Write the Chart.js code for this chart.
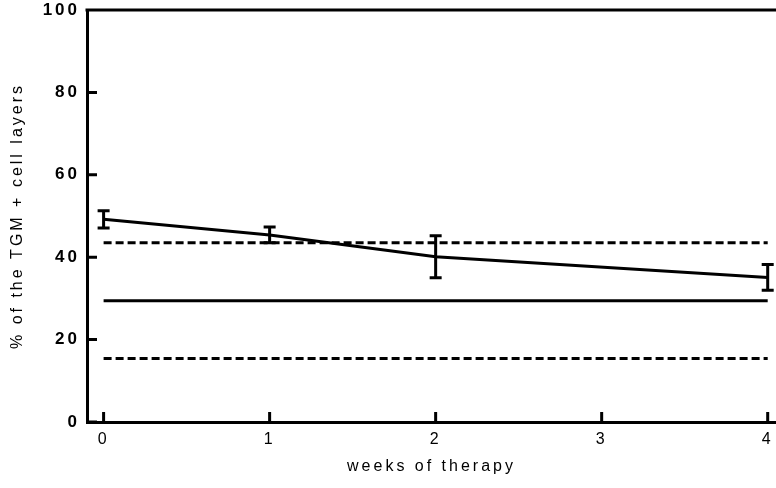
<!DOCTYPE html>
<html><head><meta charset="utf-8">
<script src="https://cdn.jsdelivr.net/npm/chart.js@4"></script>
<style>html,body{margin:0;padding:0;background:#fff}</style>
</head><body>
<canvas id="c" width="776" height="488"></canvas>
<script>
const weeks = [0, 1, 2, 4];
const meanPct = [49.2, 45.4, 40.1, 35.1];
const errPct = [2.1, 1.9, 5.1, 3.1];
const refWeeks = [0, 4];
const refMean = [29.4, 29.4];
const refUpper = [43.5, 43.5];
const refLower = [15.4, 15.4];
const xTicks = [0, 1, 2, 3, 4];
const yTicks = [0, 20, 40, 60, 80, 100];
const xTitle = 'weeks of therapy';
const yTitle = '% of the TGM + cell layers';

const FONT = "'Liberation Sans', Arial, sans-serif";
const SPACING = '3px';

const pts = (xs, ys) => xs.map((v, i) => ({x: v, y: ys[i]}));

const spacingPlugin = {
  id: 'spacing',
  beforeLayout(chart) { chart.ctx.letterSpacing = SPACING; },
  beforeDraw(chart) { chart.ctx.letterSpacing = SPACING; }
};

const decorPlugin = {
  id: 'decor',
  afterDatasetsDraw(chart) {
    const {ctx, scales: {x, y}} = chart;
    ctx.save();
    ctx.strokeStyle = '#000';
    ctx.lineWidth = 3;
    ctx.lineCap = 'butt';
    weeks.forEach((w, i) => {
      const px = x.getPixelForValue(w);
      const top = y.getPixelForValue(meanPct[i] + errPct[i]);
      const bot = y.getPixelForValue(meanPct[i] - errPct[i]);
      ctx.beginPath();
      ctx.moveTo(px, top); ctx.lineTo(px, bot);
      ctx.moveTo(px - 6, top); ctx.lineTo(px + 6, top);
      ctx.moveTo(px - 6, bot); ctx.lineTo(px + 6, bot);
      ctx.stroke();
    });
    ctx.restore();
  },
  afterDraw(chart) {
    const {ctx, chartArea: a, scales: {x, y}} = chart;
    ctx.save();
    ctx.strokeStyle = '#000';
    ctx.lineWidth = 3;
    ctx.beginPath();
    ctx.moveTo(a.left - 1.5, a.top);
    ctx.lineTo(a.right, a.top);
    xTicks.forEach(v => {
      const px = x.getPixelForValue(v);
      ctx.moveTo(px, a.bottom);
      ctx.lineTo(px, a.bottom - 10);
    });
    yTicks.forEach(v => {
      const py = y.getPixelForValue(v);
      ctx.moveTo(a.left, py);
      ctx.lineTo(a.left + 10, py);
    });
    ctx.stroke();
    ctx.restore();
  }
};

const lineStyle = {borderColor: '#000', backgroundColor: '#000', pointRadius: 0, fill: false, tension: 0, clip: false};

new Chart(document.getElementById('c'), {
  type: 'line',
  data: {
    datasets: [
      Object.assign({label: 'mean', data: pts(weeks, meanPct), borderWidth: 3}, lineStyle),
      Object.assign({label: 'ref mean', data: pts(refWeeks, refMean), borderWidth: 3}, lineStyle),
      Object.assign({label: 'ref upper', data: pts(refWeeks, refUpper), borderWidth: 3, borderDash: [8, 4]}, lineStyle),
      Object.assign({label: 'ref lower', data: pts(refWeeks, refLower), borderWidth: 3, borderDash: [8, 4]}, lineStyle)
    ]
  },
  options: {
    responsive: false,
    animation: false,
    devicePixelRatio: 1,
    layout: {padding: {top: 10, right: 0, bottom: 0, left: 0}},
    plugins: {legend: {display: false}, tooltip: {enabled: false}},
    scales: {
      x: {
        type: 'linear', min: -0.1, max: 4.05,
        afterBuildTicks: s => { s.ticks = xTicks.map(v => ({value: v})); },
        afterFit: s => { s.height = 66; s.paddingLeft = 0; s.paddingRight = 0; },
        ticks: {font: {family: FONT, size: 16}, color: '#000', padding: 8, maxRotation: 0},
        grid: {display: true, drawOnChartArea: false, drawTicks: false, color: '#000'},
        border: {display: true, width: 3, color: '#000'},
        title: {display: true, text: xTitle, font: {family: FONT, size: 16}, color: '#000', padding: {top: 0, bottom: 12}}
      },
      y: {
        type: 'linear', min: 0, max: 100,
        afterBuildTicks: s => { s.ticks = yTicks.map(v => ({value: v})); },
        afterFit: s => { s.width = 87; s.paddingTop = 0; s.paddingBottom = 0; },
        ticks: {font: {family: FONT, size: 17, weight: 'bold'}, color: '#000', padding: 7},
        grid: {display: true, drawOnChartArea: false, drawTicks: false, color: '#000'},
        border: {display: true, width: 3, color: '#000'},
        title: {display: true, text: yTitle, font: {family: FONT, size: 16}, color: '#000', padding: {top: 8, bottom: 0}}
      }
    }
  },
  plugins: [spacingPlugin, decorPlugin]
});
</script>
</body></html>
